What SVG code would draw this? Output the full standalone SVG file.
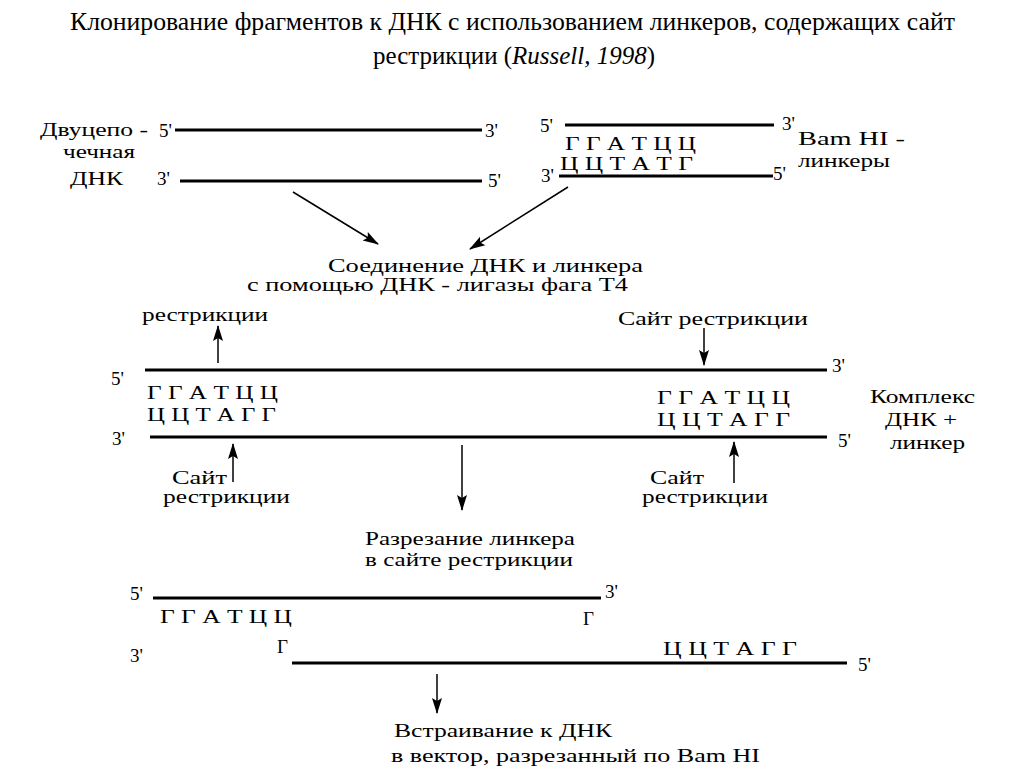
<svg xmlns="http://www.w3.org/2000/svg" width="1024" height="767" viewBox="0 0 1024 767" font-family="'Liberation Serif', 'DejaVu Serif', serif">
<style>
text{font-family:"Liberation Serif","DejaVu Serif","Noto Serif",serif;fill:#000}
.t{font-size:26px}
.l{font-size:19px}
.s{font-size:19px}
.strand{stroke:#000;stroke-width:3;fill:none}
.arr{stroke:#000;stroke-width:1.5;fill:none;marker-end:url(#ah)}
</style>
<defs>
<marker id="ah" markerUnits="userSpaceOnUse" markerWidth="16" markerHeight="12" viewBox="0 0 16 12" refX="15" refY="6" orient="auto">
<path d="M0,1 L16,6 L0,11 L3,6 Z" fill="#000"/>
</marker>
</defs>
<rect width="1024" height="767" fill="#fff"/>

<g id="title">
<text class="t" x="70" y="30" textLength="885" lengthAdjust="spacingAndGlyphs">Клонирование фрагментов к ДНК с использованием линкеров, содержащих сайт</text>
<text class="t" x="373" y="64" textLength="282" lengthAdjust="spacingAndGlyphs">рестрикции (<tspan font-style="italic">Russell, 1998</tspan>)</text>
</g>

<g id="dna">
<text class="l" x="40" y="136" textLength="108" lengthAdjust="spacingAndGlyphs">Двуцепо -</text>
<text class="l" x="63" y="158" textLength="72" lengthAdjust="spacingAndGlyphs">чечная</text>
<text class="l" x="70" y="185" textLength="53" lengthAdjust="spacingAndGlyphs">ДНК</text>
<text class="l" x="159" y="137">5'</text>
<line class="strand" x1="175" y1="130" x2="482" y2="130"/>
<text class="l" x="485" y="137">3'</text>
<text class="l" x="157" y="185">3'</text>
<line class="strand" x1="180" y1="181" x2="482" y2="181"/>
<text class="l" x="488" y="187">5'</text>
</g>

<g id="linkers">
<text class="l" x="540" y="132">5'</text>
<line class="strand" x1="565" y1="125" x2="774" y2="125"/>
<text class="l" x="782" y="130">3'</text>
<text class="s" x="565" y="150" textLength="131" lengthAdjust="spacingAndGlyphs">Г Г А Т Ц Ц</text>
<text class="l" x="541" y="182">3'</text>
<text class="s" x="560" y="170" textLength="133" lengthAdjust="spacingAndGlyphs">Ц Ц Т А Т Г</text>
<line class="strand" x1="559" y1="176" x2="773" y2="176"/>
<text class="l" x="773" y="180">5'</text>
<text class="l" x="798" y="145" textLength="107" lengthAdjust="spacingAndGlyphs">Bam  HI -</text>
<text class="l" x="798" y="167" textLength="92" lengthAdjust="spacingAndGlyphs">линкеры</text>
</g>

<g id="ligation">
<text class="l" x="328" y="272" textLength="315" lengthAdjust="spacingAndGlyphs">Соединение ДНК  и линкера</text>
<text class="l" x="247" y="291" textLength="381" lengthAdjust="spacingAndGlyphs">с помощью ДНК - лигазы  фага  Т4</text>
</g>

<g id="complex">
<text class="l" x="142" y="321" textLength="126" lengthAdjust="spacingAndGlyphs">рестрикции</text>
<text class="l" x="618" y="325" textLength="190" lengthAdjust="spacingAndGlyphs">Сайт рестрикции</text>
<text class="l" x="111" y="385">5'</text>
<line class="strand" x1="145" y1="370" x2="827" y2="370"/>
<text class="l" x="832" y="372">3'</text>
<text class="s" x="147" y="399" textLength="131" lengthAdjust="spacingAndGlyphs">Г Г А Т Ц Ц</text>
<text class="s" x="147" y="421" textLength="129" lengthAdjust="spacingAndGlyphs">Ц Ц Т А Г Г</text>
<text class="s" x="657" y="404" textLength="133" lengthAdjust="spacingAndGlyphs">Г Г А Т Ц Ц</text>
<text class="s" x="657" y="426" textLength="133" lengthAdjust="spacingAndGlyphs">Ц Ц Т А Г Г</text>
<text class="l" x="112" y="445">3'</text>
<line class="strand" x1="150" y1="437" x2="827" y2="437"/>
<text class="l" x="838" y="447">5'</text>
<text class="l" x="870" y="403" textLength="105" lengthAdjust="spacingAndGlyphs">Комплекс</text>
<text class="l" x="885" y="426" textLength="72" lengthAdjust="spacingAndGlyphs">ДНК +</text>
<text class="l" x="890" y="449" textLength="75" lengthAdjust="spacingAndGlyphs">линкер</text>
<text class="l" x="172" y="484" textLength="55" lengthAdjust="spacingAndGlyphs">Сайт</text>
<text class="l" x="163" y="503" textLength="127" lengthAdjust="spacingAndGlyphs">рестрикции</text>
<text class="l" x="650" y="484" textLength="54" lengthAdjust="spacingAndGlyphs">Сайт</text>
<text class="l" x="642" y="503" textLength="126" lengthAdjust="spacingAndGlyphs">рестрикции</text>
</g>

<g id="cutting">
<text class="l" x="365" y="545" textLength="210" lengthAdjust="spacingAndGlyphs">Разрезание линкера</text>
<text class="l" x="365" y="566" textLength="208" lengthAdjust="spacingAndGlyphs">в сайте рестрикции</text>
</g>

<g id="cut-fragment">
<text class="l" x="130" y="600">5'</text>
<line class="strand" x1="153" y1="598" x2="601" y2="598"/>
<text class="l" x="605" y="598">3'</text>
<text class="s" x="160" y="623" textLength="132" lengthAdjust="spacingAndGlyphs">Г Г А Т Ц Ц</text>
<text class="s" x="583" y="625">Г</text>
<text class="l" x="130" y="662">3'</text>
<text class="s" x="277" y="653">Г</text>
<line class="strand" x1="292" y1="663" x2="847" y2="663"/>
<text class="s" x="663" y="655" textLength="134" lengthAdjust="spacingAndGlyphs">Ц Ц Т А Г Г</text>
<text class="l" x="858" y="671">5'</text>
</g>

<g id="insertion">
<text class="l" x="394" y="737" textLength="218" lengthAdjust="spacingAndGlyphs">Встраивание к ДНК</text>
<text class="l" x="391" y="762" textLength="369" lengthAdjust="spacingAndGlyphs">в вектор, разрезанный по Bam  HI</text>
</g>

<g id="connectors">
<line class="arr" x1="293" y1="192" x2="378" y2="244"/>
<line class="arr" x1="568" y1="187" x2="470" y2="249"/>
<line class="arr" x1="218" y1="363" x2="218" y2="326"/>
<line class="arr" x1="704" y1="328" x2="704" y2="365"/>
<line class="arr" x1="233" y1="482" x2="233" y2="444"/>
<line class="arr" x1="734" y1="483" x2="734" y2="442"/>
<line class="arr" x1="462" y1="445" x2="462" y2="510"/>
<line class="arr" x1="437" y1="674" x2="437" y2="713"/>
</g>
</svg>
